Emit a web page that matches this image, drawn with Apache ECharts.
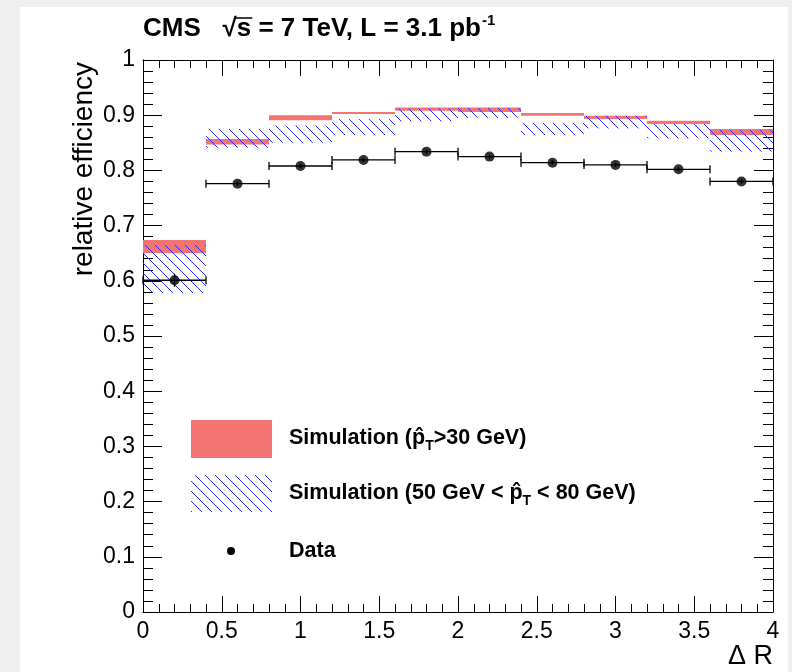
<!DOCTYPE html>
<html>
<head>
<meta charset="utf-8">
<script src="https://cdn.jsdelivr.net/npm/echarts@6/dist/echarts.min.js"></script>
<style>
html,body{margin:0;padding:0;background:#efefef;}
#main{width:792px;height:672px;}
</style>
</head>
<body>
<div id="main"></div>
<script>
// ---- data ----
const binLow  = [0.0, 0.4, 0.8, 1.2, 1.6, 2.0, 2.4, 2.8, 3.2, 3.6];
const binHigh = [0.4, 0.8, 1.2, 1.6, 2.0, 2.4, 2.8, 3.2, 3.6, 4.0];
const binCenter = [0.2, 0.6, 1.0, 1.4, 1.8, 2.2, 2.6, 3.0, 3.4, 3.8];
const dataEff = [0.601, 0.776, 0.808, 0.819, 0.834, 0.825, 0.814, 0.810, 0.802, 0.780];
const dataErr = [0.012, 0.004, 0.004, 0.004, 0.004, 0.004, 0.004, 0.004, 0.004, 0.004];
const simAllLo = [0.650, 0.847, 0.891, 0.902, 0.908, 0.906, 0.899, 0.893, 0.884, 0.864];
const simAllHi = [0.674, 0.857, 0.900, 0.906, 0.914, 0.914, 0.904, 0.899, 0.890, 0.875];
const simBinLo = [0.578, 0.841, 0.850, 0.864, 0.889, 0.895, 0.864, 0.876, 0.858, 0.834];
const simBinHi = [0.665, 0.875, 0.881, 0.893, 0.912, 0.913, 0.886, 0.899, 0.884, 0.873];
const xTicks = [0, 0.5, 1, 1.5, 2, 2.5, 3, 3.5, 4];
const yTicks = [0, 0.1, 0.2, 0.3, 0.4, 0.5, 0.6, 0.7, 0.8, 0.9, 1];

const RED = '#f47474';
const BLUE = '#2a2aff';
const FONT = '"Liberation Sans", Arial, Helvetica, sans-serif';

function hatch(x0, y0, x1, y1, spacing, style) {
  const out = [];
  const cMin = Math.ceil((x0 - y1) / spacing), cMax = Math.floor((x1 - y0) / spacing);
  for (let k = cMin; k <= cMax; k++) {
    const c = k * spacing;
    const ys = Math.max(y0, x0 - c), ye = Math.min(y1, x1 - c);
    if (ye - ys > 0.5) {
      out.push({type: 'line', shape: {x1: ys + c, y1: ys, x2: ye + c, y2: ye}, style: style, silent: true});
    }
  }
  return out;
}

// text measuring for the sqrt overline in the title
const mctx = document.createElement('canvas').getContext('2d');
function textW(s, font) { mctx.font = font; return mctx.measureText(s).width; }
const TITLE_SIZE = 26;
const titleFont = 'bold ' + TITLE_SIZE + 'px ' + FONT;
const titleX = 143, titleY = 29;
const olX0 = titleX + textW('CMS   \u221A', titleFont) - 2;
const olX1 = titleX + textW('CMS   \u221As', titleFont) + 1;

const bandAll = binLow.map((l, i) => [l, binHigh[i], simAllLo[i], simAllHi[i]]);
const bandBin = binLow.map((l, i) => [l, binHigh[i], simBinLo[i], simBinHi[i]]);
const errData = binCenter.map((c, i) => [c, dataEff[i], binLow[i], binHigh[i], dataErr[i]]);
const pts = binCenter.map((c, i) => [c, dataEff[i]]);

const chart = echarts.init(document.getElementById('main'), null, {renderer: 'canvas'});

const axisCommon = {
  axisLine: {show: true, onZero: false, lineStyle: {color: '#000', width: 1}},
  splitLine: {show: false},
  minorSplitLine: {show: false},
};
const xAxisBase = Object.assign({}, axisCommon, {
  type: 'value', min: 0, max: 4, interval: 0.5,
  axisTick: {show: true, inside: true, length: 16, lineStyle: {color: '#000'}},
  minorTick: {show: true, splitNumber: 5, length: 8, lineStyle: {color: '#000'}},
});
const yAxisBase = Object.assign({}, axisCommon, {
  type: 'value', min: 0, max: 1, interval: 0.1,
  axisTick: {show: true, inside: true, length: 19, lineStyle: {color: '#000'}},
  minorTick: {show: true, splitNumber: 5, length: 10, lineStyle: {color: '#000'}},
});

const legendRich = {
  b: {fontFamily: FONT, fontSize: 21.5, fontWeight: 'bold', fill: '#000'},
  s: {fontFamily: FONT, fontSize: 14, fontWeight: 'bold', fill: '#000', padding: [16, 0, 0, 0]}
};

const option = {
  backgroundColor: '#efefef',
  animation: false,
  grid: {left: 143, right: 19, top: 60, bottom: 60, containLabel: false, outerBoundsMode: 'none'},
  xAxis: [
    Object.assign({}, xAxisBase, {position: 'bottom',
      axisLabel: {show: true, margin: 8, color: '#000', fontFamily: FONT, fontSize: 23,
        formatter: v => { const t = xTicks.find(q => Math.abs(q - v) < 1e-9); return t === undefined ? '' : String(t); }}}),
    Object.assign({}, xAxisBase, {position: 'top', axisLabel: {show: false}})
  ],
  yAxis: [
    Object.assign({}, yAxisBase, {position: 'left',
      axisLabel: {show: true, margin: 8, color: '#000', fontFamily: FONT, fontSize: 23,
        formatter: v => { const t = yTicks.find(q => Math.abs(q - v) < 1e-9); return t === undefined ? '' : String(t); }}}),
    Object.assign({}, yAxisBase, {position: 'right', axisLabel: {show: false}})
  ],
  graphic: [
    {type: 'rect', z: -10, shape: {x: 20, y: 7, width: 768, height: 670}, style: {fill: '#fff'}, silent: true},
    {type: 'text', x: titleX, y: titleY, style: {
      text: '{b|CMS   \u221As = 7 TeV, L = 3.1 pb}{sup|-1}',
      verticalAlign: 'middle',
      rich: {b: {fontFamily: FONT, fontSize: TITLE_SIZE, fontWeight: 'bold', fill: '#000'},
             sup: {fontFamily: FONT, fontSize: 15, fontWeight: 'bold', fill: '#000', padding: [0, 0, 16, 1]}}}},
    {type: 'line', shape: {x1: olX0, y1: 18, x2: olX1, y2: 18}, style: {stroke: '#000', lineWidth: 1.5}},
    {type: 'text', x: 84, y: 62, rotation: Math.PI / 2, style: {
      text: 'relative efficiency', fontFamily: FONT, fontSize: 28, fill: '#000', align: 'right', verticalAlign: 'middle'}},
    {type: 'text', x: 773, y: 657, style: {
      text: '\u0394 R', fontFamily: FONT, fontSize: 27, fill: '#000', align: 'right', verticalAlign: 'middle'}},
    // legend
    {type: 'rect', shape: {x: 191, y: 420, width: 81, height: 38}, style: {fill: RED}},
    {type: 'group', children: hatch(191, 475, 272, 512, 10, {stroke: BLUE, lineWidth: 1})},
    {type: 'circle', shape: {cx: 231, cy: 551, r: 4}, style: {fill: '#000'}},
    {type: 'text', x: 289, y: 438, style: {
      text: '{b|Simulation (p\u0302}{s|T}{b|>30 GeV)}', verticalAlign: 'middle', rich: legendRich}},
    {type: 'text', x: 289, y: 493, style: {
      text: '{b|Simulation (50 GeV < p\u0302}{s|T}{b| < 80 GeV)}', verticalAlign: 'middle', rich: legendRich}},
    {type: 'text', x: 289, y: 551, style: {
      text: 'Data', fontFamily: FONT, fontSize: 21.5, fontWeight: 'bold', fill: '#000', verticalAlign: 'middle'}}
  ],
  series: [
    {
      name: 'sim_all', type: 'custom', data: bandAll, z: 2,
      encode: {x: [0, 1], y: [2, 3]},
      renderItem: (params, api) => {
        const a = api.coord([api.value(0), api.value(3)]);
        const b = api.coord([api.value(1), api.value(2)]);
        return {type: 'rect', shape: {x: a[0], y: a[1], width: b[0] - a[0], height: b[1] - a[1]}, style: {fill: RED}};
      }
    },
    {
      name: 'sim_bin', type: 'custom', data: bandBin, z: 3,
      encode: {x: [0, 1], y: [2, 3]},
      renderItem: (params, api) => {
        const a = api.coord([api.value(0), api.value(3)]);
        const b = api.coord([api.value(1), api.value(2)]);
        return {type: 'group', children: hatch(a[0], a[1], b[0], b[1], 10, {stroke: BLUE, lineWidth: 1})};
      }
    },
    {
      name: 'err', type: 'custom', data: errData, z: 4,
      encode: {x: [0, 2, 3], y: [1]},
      renderItem: (params, api) => {
        const c = api.coord([api.value(0), api.value(1)]);
        const l = api.coord([api.value(2), api.value(1)]);
        const r = api.coord([api.value(3), api.value(1)]);
        const t = api.coord([api.value(0), api.value(1) + api.value(4)]);
        const bt = api.coord([api.value(0), api.value(1) - api.value(4)]);
        const st = {stroke: '#000', lineWidth: 1.3};
        return {type: 'group', children: [
          {type: 'line', shape: {x1: l[0], y1: l[1], x2: r[0], y2: r[1]}, style: st},
          {type: 'line', shape: {x1: l[0], y1: l[1] - 4, x2: l[0], y2: l[1] + 4}, style: st},
          {type: 'line', shape: {x1: r[0], y1: r[1] - 4, x2: r[0], y2: r[1] + 4}, style: st},
          {type: 'line', shape: {x1: c[0], y1: t[1], x2: c[0], y2: bt[1]}, style: st}
        ]};
      }
    },
    {
      name: 'Data', type: 'scatter', data: pts, z: 5,
      symbol: 'circle', symbolSize: 10, itemStyle: {color: '#000'}
    }
  ]
};
chart.setOption(option);
</script>
</body>
</html>
